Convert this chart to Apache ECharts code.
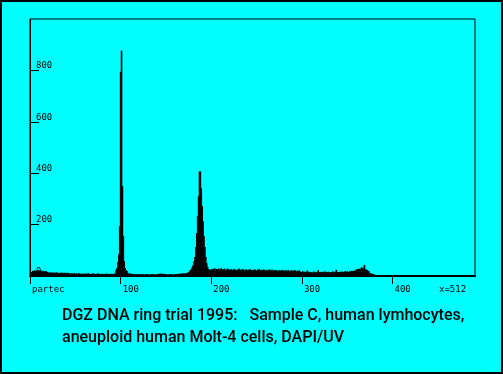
<!DOCTYPE html>
<html>
<head>
<meta charset="utf-8">
<script src="https://cdn.jsdelivr.net/npm/echarts@6/dist/echarts.min.js"></script>
<style>
  html, body { margin: 0; padding: 0; background: #00ffff; }
  #chart { width: 503px; height: 374px; }
</style>
</head>
<body>
<div id="chart"></div>
<script>
// counts per channel, channel 0..399 (nothing above 400)
const counts = [
  0, 0, 16, 20, 18, 22, 19, 21, 17, 20, 22, 18, 19, 21, 16, 20, 18, 17, 19, 15,
  14, 13, 15, 12, 14, 13, 11, 14, 12, 13, 15, 12, 11, 13, 12, 14, 11, 12, 13, 10,
  12, 11, 13, 10, 9, 11, 8, 10, 9, 12, 8, 9, 10, 8, 11, 9, 8, 10, 7, 9,
  8, 10, 9, 7, 12, 8, 9, 7, 8, 10, 7, 9, 8, 6, 9, 11, 7, 8, 6, 9,
  7, 8, 6, 9, 7, 10, 6, 8, 7, 9, 6, 8, 7, 9, 10, 23, 31, 54, 85, 194,
  795, 877, 349, 155, 58, 31, 23, 19, 12, 10, 9, 8, 9, 7, 8, 6, 8, 7, 6, 8,
  6, 7, 5, 8, 6, 7, 5, 6, 8, 5, 7, 6, 5, 7, 6, 8, 5, 6, 7, 5,
  6, 8, 9, 7, 10, 8, 6, 9, 7, 8, 6, 7, 5, 6, 8, 6, 7, 5, 6, 7,
  6, 8, 7, 9, 7, 8, 10, 8, 9, 11, 9, 10, 12, 10, 13, 15, 18, 23, 27, 35,
  43, 58, 74, 113, 167, 233, 310, 407, 407, 341, 272, 213, 155, 113, 74, 50, 35, 27, 23, 24,
  26, 22, 28, 24, 30, 21, 27, 25, 29, 23, 26, 31, 22, 27, 24, 28, 20, 25, 29, 23,
  26, 22, 27, 24, 20, 28, 23, 25, 21, 26, 24, 29, 22, 25, 20, 27, 23, 21, 26, 24,
  22, 25, 20, 27, 23, 19, 24, 21, 26, 22, 20, 25, 23, 28, 21, 24, 20, 23, 26, 22,
  21, 24, 19, 23, 26, 20, 22, 25, 19, 23, 21, 24, 20, 22, 18, 23, 21, 19, 24, 20,
  22, 19, 23, 18, 21, 24, 20, 17, 22, 19, 21, 18, 23, 20, 17, 21, 19, 22, 18, 16,
  15, 18, 14, 17, 13, 16, 21, 14, 17, 13, 16, 15, 12, 18, 14, 16, 13, 15, 23, 14,
  16, 13, 17, 15, 14, 18, 13, 16, 14, 17, 12, 15, 16, 14, 18, 13, 15, 17, 24, 14,
  16, 15, 17, 14, 18, 16, 15, 17, 19, 16, 18, 15, 17, 19, 16, 20, 18, 21, 19, 22,
  24, 27, 26, 28, 27, 29, 35, 28, 30, 43, 26, 25, 23, 20, 18, 12, 10, 9, 8, 7,
  6, 4, 3, 2, 2, 1, 2, 1, 1, 2, 1, 4, 1, 0, 1, 0, 0, 1, 0, 0
];
const xTicks = [0, 100, 200, 300, 400];
const yTicks = [0, 200, 400, 600, 800];
const xLabelZero = 'partec';
const channelNote = 'x=512';
const caption = [
  'DGZ DNA ring trial 1995:   Sample C, human lymhocytes,',
  'aneuploid human Molt-4 cells, DAPI/UV'
];

const monoFont = { fontFamily: 'DejaVu Sans Mono', fontSize: 9, color: '#000' };
const captionFont = '500 16px Roboto, "Liberation Sans", sans-serif';
const chart = echarts.init(document.getElementById('chart'));

chart.setOption({
  backgroundColor: '#00ffff',
  animation: false,
  grid: {
    left: 30, top: 19, width: 445, height: 257,
    show: true, borderColor: '#000', borderWidth: 1
  },
  xAxis: {
    type: 'value', min: 0, max: 491,
    axisLine: { lineStyle: { color: '#000', width: 2 } },
    axisTick: { customValues: xTicks, length: 8, lineStyle: { color: '#000', width: 1 } },
    axisLabel: Object.assign({
      customValues: xTicks,
      formatter: v => (v === 0 ? xLabelZero : String(v)),
      align: 'left', padding: [0, 0, 0, 2], margin: 9
    }, monoFont),
    splitLine: { show: false }
  },
  yAxis: {
    type: 'value', min: 0, max: 1000,
    axisLine: { show: true, lineStyle: { color: '#000', width: 1 } },
    axisTick: { show: true, inside: true, customValues: yTicks, length: 9, lineStyle: { color: '#000' } },
    axisLabel: Object.assign({
      inside: true, customValues: yTicks, margin: 6,
      verticalAlign: 'bottom', lineHeight: 9
    }, monoFont),
    splitLine: { show: false }
  },
  series: [{
    type: 'bar',
    data: counts.map((c, i) => [i, c]),
    barWidth: 1.6,
    itemStyle: { color: '#000' },
    silent: true
  }],
  graphic: [
    { type: 'rect', shape: { x: 1, y: 1, width: 501, height: 372 },
      style: { fill: 'none', stroke: '#000', lineWidth: 2 } },
    { type: 'text', left: 439, top: 285,
      style: { text: channelNote, font: '9px "DejaVu Sans Mono"', fill: '#000' } },
    { type: 'text', left: 62, top: 308,
      style: { text: caption[0], font: captionFont, fill: '#000' } },
    { type: 'text', left: 62, top: 330,
      style: { text: caption[1], font: captionFont, fill: '#000' } }
  ]
});
</script>
</body>
</html>
